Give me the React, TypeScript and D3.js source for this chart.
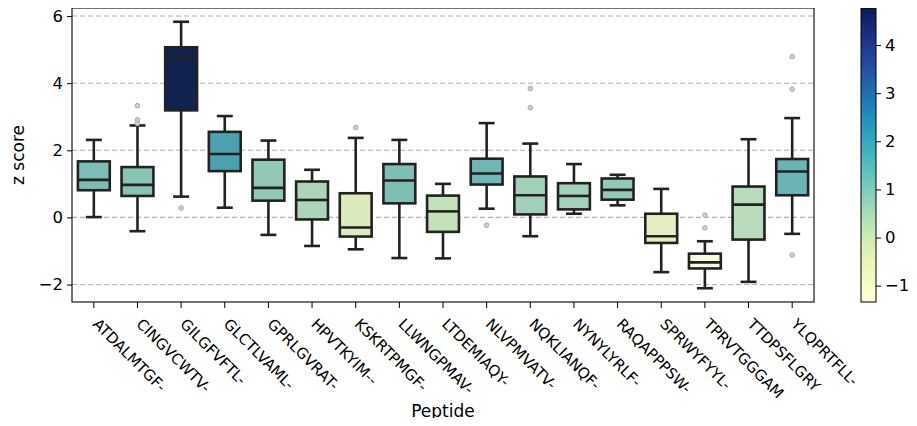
import React, { useEffect, useRef } from 'react';
import * as d3 from 'd3';

// peptide categories
const peptides = [
  'ATDALMTGF-', 'CINGVCWTV-', 'GILGFVFTL-', 'GLCTLVAML-', 'GPRLGVRAT-', 'HPVTKYIM--',
  'KSKRTPMGF-', 'LLWNGPMAV-', 'LTDEMIAQY-', 'NLVPMVATV-', 'NQKLIANQF-', 'NYNYLYRLF-',
  'RAQAPPPSW-', 'SPRWYFYYL-', 'TPRVTGGGAM', 'TTDPSFLGRY', 'YLQPRTFLL-',
];

// box statistics
const whiskerLow = [0.01, -0.41, 0.62, 0.29, -0.52, -0.85, -0.95, -1.21, -1.22, 0.26, -0.56, 0.11, 0.36, -1.63, -2.11, -1.92, -0.49];
const q1 = [0.81, 0.64, 3.19, 1.38, 0.5, -0.06, -0.57, 0.42, -0.43, 0.98, 0.09, 0.24, 0.53, -0.76, -1.52, -0.66, 0.66];
const median = [1.12, 0.97, 4.77, 1.89, 0.88, 0.52, -0.3, 1.1, 0.18, 1.31, 0.66, 0.64, 0.82, -0.56, -1.34, 0.38, 1.37];
const q3 = [1.67, 1.5, 5.07, 2.55, 1.72, 1.07, 0.72, 1.59, 0.65, 1.75, 1.22, 1.02, 1.16, 0.11, -1.08, 0.92, 1.74];
const whiskerHigh = [2.31, 2.74, 5.83, 3.02, 2.29, 1.42, 2.37, 2.31, 1.0, 2.81, 2.2, 1.59, 1.27, 0.85, -0.71, 2.33, 2.96];
const outliers = [
  [], [3.33, 2.91, 2.8], [0.28], [], [], [], [2.68], [], [],
  [-0.23], [3.84, 3.27], [], [], [], [0.07, -0.31], [], [4.79, 3.82, -1.12],
];

const yTicks = [-2, 0, 2, 4, 6];
const cbTicks = [-1, 0, 1, 2, 3, 4];

const W = 917, H = 426;
const FONT = 'DejaVu Sans';

// seaborn-style desaturation of box fills
const desat = (c, s = 0.75) => {
  const h = d3.hsl(c);
  h.s *= s;
  return h.formatHex();
};

const BoxChart = () => {
  const svgRef = useRef<SVGSVGElement>(null);

  useEffect(() => {
    const svg = d3.select(svgRef.current);
    svg.selectAll('*').remove();

    const left = 72, right = 814, top = 8, bottom = 302;

    const x = d3.scaleBand().domain(peptides).range([left, right]).padding(0);
    const y = d3.scaleLinear().domain([-2.52, 6.24]).range([bottom, top]);
    const color = d3.scaleSequential(d3.interpolateYlGnBu)
      .domain([d3.min(median), d3.max(median)]);

    // grid
    svg.append('g')
      .selectAll('line')
      .data(yTicks)
      .enter()
      .append('line')
      .attr('x1', left).attr('x2', right)
      .attr('y1', (d) => y(d)).attr('y2', (d) => y(d))
      .attr('stroke', '#b0b0b0')
      .attr('stroke-width', 1.1)
      .attr('stroke-dasharray', '5,3');

    const bw = x.bandwidth() * 0.73;
    const stroke = '#222';
    const lw = 2.6;

    const boxes = svg.append('g')
      .selectAll('g')
      .data(peptides)
      .enter()
      .append('g')
      .attr('transform', (d) => `translate(${x(d) + x.bandwidth() / 2},0)`);

    // whiskers
    boxes.append('line')
      .attr('x1', 0).attr('x2', 0)
      .attr('y1', (d, i) => y(whiskerHigh[i])).attr('y2', (d, i) => y(whiskerLow[i]))
      .attr('stroke', stroke).attr('stroke-width', lw);
    [whiskerHigh, whiskerLow].forEach((arr) => {
      boxes.append('line')
        .attr('x1', -bw / 4).attr('x2', bw / 4)
        .attr('y1', (d, i) => y(arr[i])).attr('y2', (d, i) => y(arr[i]))
        .attr('stroke', stroke).attr('stroke-width', lw);
    });

    boxes.append('rect')
      .attr('x', -bw / 2)
      .attr('width', bw)
      .attr('y', (d, i) => y(q3[i]))
      .attr('height', (d, i) => y(q1[i]) - y(q3[i]))
      .attr('fill', (d, i) => desat(color(median[i])))
      .attr('stroke', stroke).attr('stroke-width', lw);

    boxes.append('line')
      .attr('x1', -bw / 2).attr('x2', bw / 2)
      .attr('y1', (d, i) => y(median[i])).attr('y2', (d, i) => y(median[i]))
      .attr('stroke', stroke).attr('stroke-width', lw);

    boxes.selectAll('circle')
      .data((d, i) => outliers[i])
      .enter()
      .append('circle')
      .attr('cx', 0)
      .attr('cy', (d) => y(d))
      .attr('r', 2.3)
      .attr('fill', '#d0d0d0')
      .attr('stroke', '#a8a8a8')
      .attr('stroke-width', 1);

    // frame
    svg.append('rect')
      .attr('x', left).attr('y', top)
      .attr('width', right - left).attr('height', bottom - top)
      .attr('fill', 'none').attr('stroke', '#000').attr('stroke-width', 1.1);

    // y axis
    const yAxis = svg.append('g')
      .attr('transform', `translate(${left},0)`)
      .call(d3.axisLeft(y).tickValues(yTicks).tickSize(5).tickPadding(4));
    yAxis.select('.domain').remove();
    yAxis.selectAll('text').style('font-family', FONT).style('font-size', '16.5px').attr('fill', '#000');

    // x axis
    const xAxis = svg.append('g')
      .attr('transform', `translate(0,${bottom})`)
      .call(d3.axisBottom(x).tickSize(6));
    xAxis.select('.domain').remove();
    xAxis.selectAll('text')
      .attr('y', 0).attr('dy', 0)
      .attr('transform', 'translate(6,15) rotate(45)')
      .style('text-anchor', 'start')
      .attr('dominant-baseline', 'hanging')
      .style('font-family', FONT)
      .style('font-size', '15px')
      .attr('fill', '#000');

    svg.append('text')
      .attr('x', (left + right) / 2).attr('y', 417)
      .attr('text-anchor', 'middle')
      .style('font-family', FONT).style('font-size', '17px')
      .text('Peptide');

    svg.append('text')
      .attr('transform', `translate(24,${(top + bottom) / 2}) rotate(-90)`)
      .attr('text-anchor', 'middle')
      .style('font-family', FONT).style('font-size', '17px')
      .text('z score');

    // colorbar
    const cbX = 861, cbW = 15;
    const cb = d3.scaleLinear().domain(color.domain()).range([bottom, top]);
    const grad = svg.append('defs').append('linearGradient')
      .attr('id', 'cbgrad').attr('x1', 0).attr('x2', 0).attr('y1', 1).attr('y2', 0);
    d3.range(0, 1.0001, 0.05).forEach((t) => {
      grad.append('stop').attr('offset', t).attr('stop-color', d3.interpolateYlGnBu(t));
    });
    svg.append('rect')
      .attr('x', cbX).attr('y', top)
      .attr('width', cbW).attr('height', bottom - top)
      .attr('fill', 'url(#cbgrad)')
      .attr('stroke', '#000').attr('stroke-width', 1);
    const cbAxis = svg.append('g')
      .attr('transform', `translate(${cbX + cbW},0)`)
      .call(d3.axisRight(cb).tickValues(cbTicks).tickFormat(d3.format('d')).tickSize(5).tickPadding(4));
    cbAxis.select('.domain').remove();
    cbAxis.selectAll('text').style('font-family', FONT).style('font-size', '16.5px').attr('fill', '#000');
  }, []);

  return <svg ref={svgRef} width={W} height={H} style={{ display: 'block' }} />;
};

export default function App() {
  return (
    <div style={{ margin: -8 }}>
      <BoxChart />
    </div>
  );
}
